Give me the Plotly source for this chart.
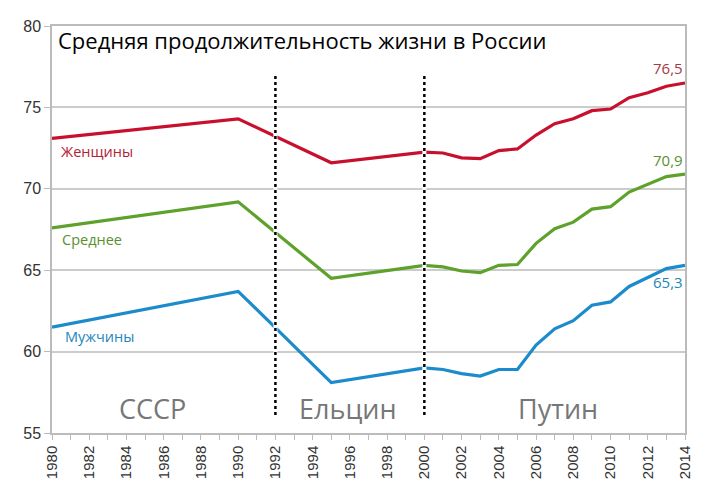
import plotly.graph_objects as go

years = [1980, 1990, 1995, 2000, 2001, 2002, 2003, 2004, 2005, 2006, 2007,
         2008, 2009, 2010, 2011, 2012, 2013, 2014]
women = [73.1, 74.3, 71.6, 72.25, 72.2, 71.9, 71.85, 72.35, 72.45, 73.3, 74.0,
         74.3, 74.8, 74.9, 75.6, 75.9, 76.3, 76.5]
average = [67.6, 69.2, 64.5, 65.3, 65.2, 64.95, 64.85, 65.3, 65.35, 66.65, 67.55,
           67.95, 68.75, 68.9, 69.8, 70.25, 70.75, 70.9]
men = [61.5, 63.7, 58.1, 59.0, 58.9, 58.65, 58.5, 58.9, 58.9, 60.4, 61.4,
       61.9, 62.85, 63.05, 64.0, 64.55, 65.1, 65.3]

era_breaks = [1992, 2000]
eras = ["СССР", "Ельцин", "Путин"]
era_x = [1985.4, 1995.9, 2007.2]

RED = "#C8102E"
GREEN = "#5EA12B"
BLUE = "#1B8BCB"

fig = go.Figure()
for vals, col in [(women, RED), (average, GREEN), (men, BLUE)]:
    fig.add_trace(go.Scatter(x=years, y=vals, mode="lines",
                             line=dict(color=col, width=3.2), showlegend=False))

# hatched era separators
for xb in era_breaks:
    fig.add_trace(go.Scatter(x=[xb, xb], y=[56.1, 77.0], mode="lines",
                             line=dict(color="white", width=4), showlegend=False))
    fig.add_trace(go.Scatter(x=[xb, xb], y=[56.1, 77.0], mode="lines",
                             line=dict(color="black", width=2.5, dash="dot"),
                             showlegend=False))

font = "Open Sans"
fig.add_annotation(x=0.007, y=0.965, xref="paper", yref="paper", xanchor="left",
                   yanchor="middle", showarrow=False,
                   text="Средняя продолжительность жизни в России",
                   font=dict(family=font, size=22, color="black"))

labels = [("Женщины", 1980.35, 72.3, "#B22234"),
          ("Среднее", 1980.45, 66.9, "#5A8F2E"),
          ("Мужчины", 1980.6, 60.9, "#2186BC")]
for t, x, y, c in labels:
    fig.add_annotation(x=x, y=y, text=t, showarrow=False, xanchor="left",
                       yanchor="middle", font=dict(family=font, size=14.5, color=c))

ends = [("76,5", women[-1] + 0.9, "#A33A45"),
        ("70,9", average[-1] + 0.85, "#5A8F2E"),
        ("65,3", men[-1] - 1.0, "#2186BC")]
for t, y, c in ends:
    fig.add_annotation(x=2014, y=y, text=t, showarrow=False, xanchor="right",
                       yanchor="middle", font=dict(family=font, size=15, color=c))

for t, x in zip(eras, era_x):
    fig.add_annotation(x=x, y=56.5, text=t, showarrow=False, xanchor="center",
                       yanchor="middle", font=dict(family=font, size=27, color="#777777"))

fig.update_layout(
    width=720, height=488,
    margin=dict(l=44, r=43, t=10, b=63),
    plot_bgcolor="white", paper_bgcolor="white",
    xaxis=dict(range=[1980, 2014], tickmode="linear", tick0=1980, dtick=2,
               tickangle=-90, ticks="outside", ticklen=5, tickcolor="#BBBBBB",
               showgrid=False, showline=True, linecolor="#BBBBBB", linewidth=1.5,
               mirror=True, zeroline=False,
               minor=dict(dtick=1, ticks="outside", ticklen=5, tickcolor="#BBBBBB"),
               tickfont=dict(family="Liberation Sans", size=15, color="#333333")),
    yaxis=dict(range=[55, 80], tickmode="linear", tick0=55, dtick=5,
               ticks="outside", ticklen=6, tickcolor="#BBBBBB",
               showgrid=True, gridcolor="#CCCCCC", gridwidth=1.5,
               showline=True, linecolor="#BBBBBB", linewidth=1.5, mirror=True,
               zeroline=False,
               tickfont=dict(family="Liberation Sans", size=16, color="#333333")),
)

fig.write_html("out.html")
